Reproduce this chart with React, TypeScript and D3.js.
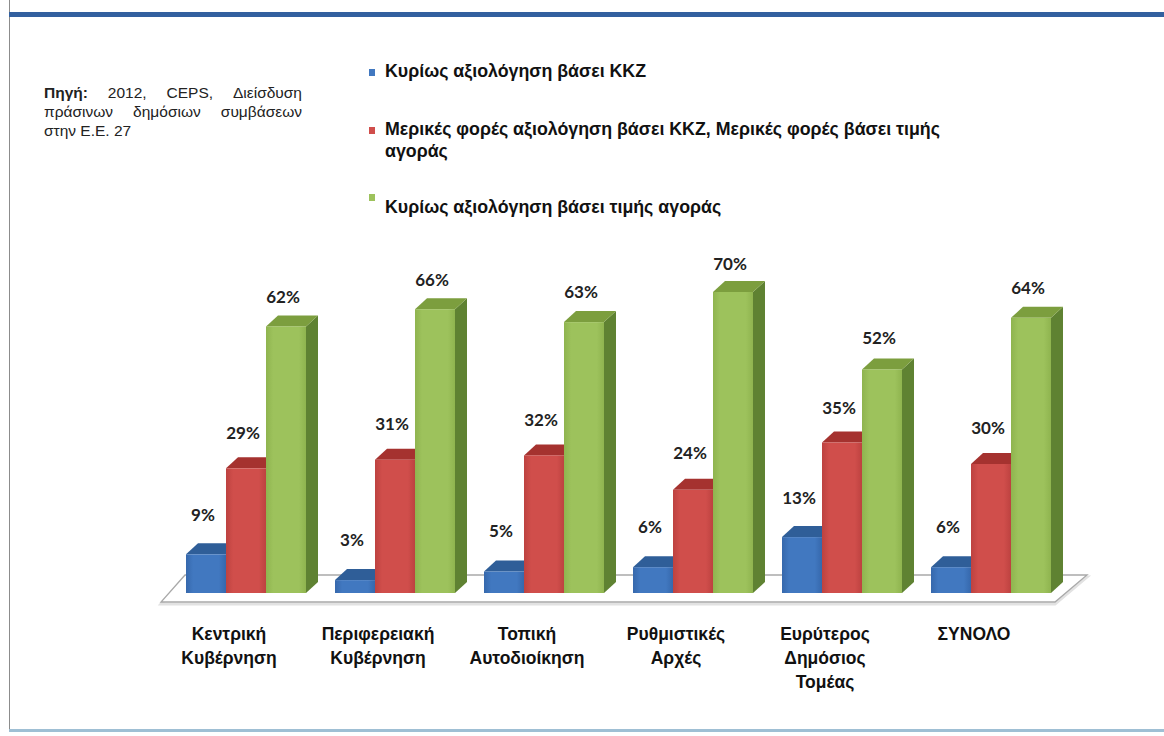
import { useEffect, useRef } from 'react';
import * as d3 from 'd3';

const categories = [
  'Κεντρική\nΚυβέρνηση',
  'Περιφερειακή\nΚυβέρνηση',
  'Τοπική\nΑυτοδιοίκηση',
  'Ρυθμιστικές\nΑρχές',
  'Ευρύτερος\nΔημόσιος\nΤομέας',
  'ΣΥΝΟΛΟ'
];
const seriesNames = [
  'Κυρίως αξιολόγηση βάσει ΚΚΖ',
  'Μερικές φορές αξιολόγηση βάσει ΚΚΖ, Μερικές φορές βάσει τιμής\nαγοράς',
  'Κυρίως αξιολόγηση βάσει τιμής αγοράς'
];
const mainlyLcc = [9, 3, 5, 6, 13, 6];
const mixedValues = [29, 31, 32, 24, 35, 30];
const mainlyPrice = [62, 66, 63, 70, 52, 64];
const sourceLines = ['Πηγή: 2012, CEPS, Διείσδυση', 'πράσινων δημόσιων συμβάσεων', 'στην Ε.Ε. 27'];

const palette = [
  { front: '#4178c0', edge: '#3668ac', top: '#2f5e98', side: '#2a5286' },
  { front: '#d04e4b', edge: '#bd4240', top: '#a5322f', side: '#8e2a27' },
  { front: '#9dc25c', edge: '#8fb44f', top: '#7c9e3e', side: '#5f8232' }
];

const W = 1164;
const H = 736;

export default function App() {
  const svgRef = useRef<SVGSVGElement | null>(null);

  useEffect(() => {
    const svgEl = svgRef.current;
    if (!svgEl) return;
    const svg = d3.select(svgEl);
    svg.selectAll('*').remove();

    const values = [mainlyLcc, mixedValues, mainlyPrice];
    const sans = '"Liberation Sans", Arial, sans-serif';

    // frame
    svg.append('rect').attr('width', W).attr('height', H).attr('fill', '#fff');
    svg.append('line').attr('x1', 9.5).attr('x2', 9.5).attr('y1', 0).attr('y2', 730).attr('stroke', '#8c8c8c').attr('stroke-width', 1);
    svg.append('rect').attr('x', 9).attr('y', 12).attr('width', W - 9).attr('height', 5).attr('fill', '#32609f');
    svg.append('rect').attr('x', 9).attr('y', 729).attr('width', W - 9).attr('height', 3).attr('fill', '#9fbfd4');

    // source note, justified like the original block
    const src = svg.append('g').attr('font-family', sans).attr('font-size', 15.5).attr('fill', '#222');
    const srcLeft = 44;
    const srcRight = 302;
    sourceLines.forEach((line, li) => {
      const y = 98 + li * 19;
      const words = line.split(' ');
      if (li === sourceLines.length - 1) {
        src.append('text').attr('x', srcLeft).attr('y', y).text(line);
        return;
      }
      const nodes = words.map((w, wi) =>
        src.append('text').attr('y', y).attr('font-weight', li === 0 && wi === 0 ? 700 : 400).text(w)
      );
      const widths = nodes.map((n) => (n.node() as SVGTextElement).getComputedTextLength());
      const gap = (srcRight - srcLeft - d3.sum(widths)) / (words.length - 1);
      let cx = srcLeft;
      nodes.forEach((n, i) => {
        n.attr('x', cx);
        cx += widths[i] + gap;
      });
    });

    // legend
    const legend = svg.append('g').attr('font-family', sans).attr('font-size', 17.8).attr('font-weight', 700).attr('fill', '#111');
    const legendRows = [77, 135, 213];
    const markerOffset = [-8, -8, -19];
    seriesNames.forEach((name, i) => {
      legend.append('rect').attr('x', 369).attr('y', legendRows[i] + markerOffset[i]).attr('width', 6).attr('height', 7).attr('fill', palette[i].front);
      const t = legend.append('text').attr('x', 385).attr('y', legendRows[i]);
      name.split('\n').forEach((part, pi) => {
        t.append('tspan').attr('x', 385).attr('dy', pi === 0 ? 0 : 22).text(part);
      });
    });

    // scales
    const x = d3.scaleBand<string>().domain(categories).range([186, 1051]).paddingInner(29 / 149).paddingOuter(0);
    const xs = d3.scaleBand<number>().domain([0, 1, 2]).range([0, x.bandwidth()]).padding(0);
    const y = d3.scaleLinear().domain([0, 100]).range([593, 163]);
    const labelY = d3.scaleLinear().domain([0, 100]).range([558, 146]);
    const dx = 12;
    const dy = 11;

    // gradients for bar fronts
    const defs = svg.append('defs');
    palette.forEach((p, i) => {
      const g = defs.append('linearGradient').attr('id', `front${i}`).attr('x1', 0).attr('x2', 1).attr('y1', 0).attr('y2', 0);
      g.append('stop').attr('offset', '0%').attr('stop-color', p.edge);
      g.append('stop').attr('offset', '18%').attr('stop-color', p.front);
      g.append('stop').attr('offset', '82%').attr('stop-color', p.front);
      g.append('stop').attr('offset', '100%').attr('stop-color', p.edge);
    });

    // floor
    const [r0, r1] = x.range();
    const fy = y(0) + 9;
    const by = y(0) - 18;
    const floor = [
      [r0 - 25, fy],
      [r1 + 4, fy],
      [r1 + 36, by],
      [r0 - 1, by]
    ];
    const floorPath = d3.line()(floor as [number, number][]) + 'Z';
    svg.append('path').attr('d', d3.line()(floor.map(([a, b]) => [a, b + 2]) as [number, number][]) + 'Z').attr('fill', 'none').attr('stroke', '#e2e2e2').attr('stroke-width', 3);
    svg.append('path').attr('d', floorPath).attr('fill', '#fff').attr('stroke', '#a9a9a9').attr('stroke-width', 1.3);

    // bars
    const bars = svg.append('g');
    categories.forEach((cat, ci) => {
      values.forEach((vals, si) => {
        const v = vals[ci];
        const x0 = (x(cat) ?? 0) + (xs(si) ?? 0);
        const x1 = x0 + xs.bandwidth();
        const yt = y(v);
        const yb = y(0);
        const p = palette[si];
        bars.append('path')
          .attr('d', `M${x1},${yt}L${x1 + dx},${yt - dy}L${x1 + dx},${yb - dy}L${x1},${yb}Z`)
          .attr('fill', p.side);
        bars.append('path')
          .attr('d', `M${x0},${yt}L${x0 + dx},${yt - dy}L${x1 + dx},${yt - dy}L${x1},${yt}Z`)
          .attr('fill', p.top);
        bars.append('rect')
          .attr('x', x0).attr('y', yt).attr('width', xs.bandwidth()).attr('height', yb - yt)
          .attr('fill', `url(#front${si})`);
      });
    });

    // value labels
    const labels = svg.append('g').attr('font-family', 'Lato, "Open Sans", sans-serif').attr('font-size', 17).attr('font-weight', 700).attr('fill', '#222').attr('text-anchor', 'middle');
    categories.forEach((cat, ci) => {
      values.forEach((vals, si) => {
        const v = vals[ci];
        const cx = (x(cat) ?? 0) + (xs(si) ?? 0) + xs.bandwidth() / 2 - 3;
        labels.append('text').attr('x', cx).attr('y', labelY(v)).text(`${v}%`);
      });
    });

    // category labels
    const cats = svg.append('g').attr('font-family', sans).attr('font-size', 17.5).attr('font-weight', 700).attr('fill', '#111').attr('text-anchor', 'middle');
    categories.forEach((cat) => {
      const cx = (x(cat) ?? 0) + x.bandwidth() / 2 - 17;
      const t = cats.append('text').attr('x', cx).attr('y', 640);
      cat.split('\n').forEach((part, pi) => {
        t.append('tspan').attr('x', cx).attr('dy', pi === 0 ? 0 : 24).text(part);
      });
    });
  }, []);

  return (
    <svg
      ref={svgRef}
      width={W}
      height={H}
      style={{ position: 'absolute', left: 0, top: 0 }}
      role="img"
      aria-label="Αξιολόγηση βάσει ΚΚΖ ή τιμής αγοράς ανά φορέα"
    />
  );
}
